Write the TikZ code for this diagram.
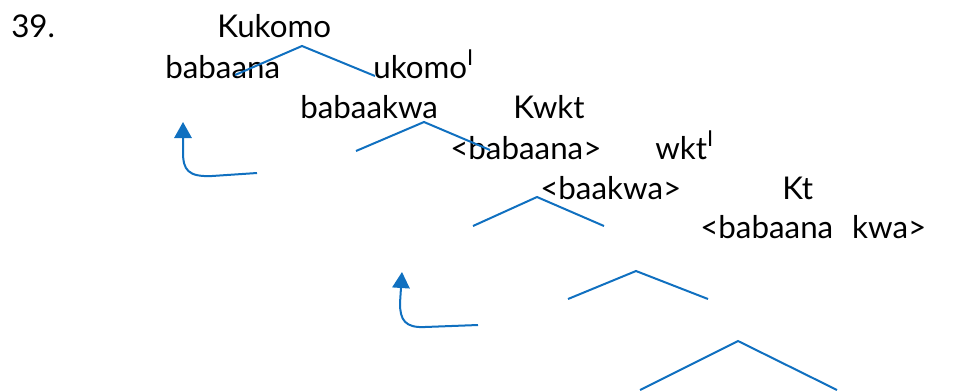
\documentclass[tikz,border=0pt]{standalone}
\usepackage{fontspec}
\setmainfont{Lato}
\usetikzlibrary{arrows.meta}
\definecolor{treeblue}{RGB}{16,112,192}
\tikzset{
  word/.style={anchor=base west,inner sep=0pt,font=\fontsize{23.5}{28}\selectfont},
  branch/.style={draw=treeblue,line width=1.5pt},
  moved/.style={draw=treeblue,line width=1.5pt,-{Triangle[width=13pt,length=12pt]}}
}
\begin{document}
\begin{tikzpicture}[x=0.75pt,y=-0.75pt]
	\useasboundingbox (0,0) rectangle (959,390);
	% words of the tree
	\node[word] (num) at (11,37) {39.};
	\node[word] (kukomo) at (217,37) {Kukomo};
	\node[word] (babaana) at (165,78) {babaana};
	\node[word] (ukomo) at (373,78) {ukomo\textsuperscript{I}};
	\node[word] (babaakwa) at (300,118) {babaakwa};
	\node[word] (kwkt) at (513,118) {Kwkt};
	\node[word] (trbabaana) at (450,159) {<babaana>};
	\node[word] (wkt) at (655,159) {wkt\textsuperscript{I}};
	\node[word] (trbaakwa) at (540,199) {<baakwa>};
	\node[word] (kt) at (782,199) {Kt};
	\node[word] (trboth) at (700,238) {<babaana\hspace{0.6em}kwa>};
	% branches
	\draw[branch] (235,75) -- (302,46) -- (375,76);
	\draw[branch] (356,151) -- (424,122) -- (490,150);
	\draw[branch] (473,226) -- (537,197) -- (604,226);
	\draw[branch] (568,299) -- (636,271) -- (708,299);
	\draw[branch] (640,390) -- (738,341) -- (837,390);
	% movement arrows
	\draw[moved] (257,173) -- (212,176) .. controls (188,177) and (183,170) .. (183,152) -- (183,122);
	\draw[moved] (478,325) -- (425,327) .. controls (405,328) and (400,320) .. (400,303) -- (402,272);
\end{tikzpicture}
\end{document}
